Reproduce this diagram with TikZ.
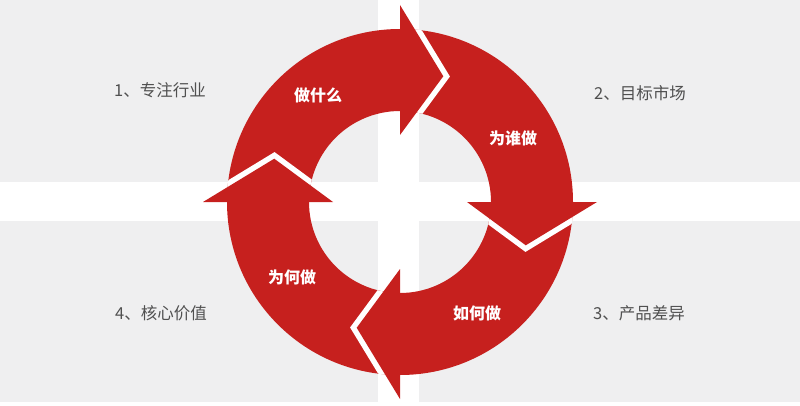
\documentclass[tikz,border=0pt]{standalone}
\usepackage{fontspec}
\newfontfamily\cjk{Noto Sans CJK SC}
\definecolor{ringred}{RGB}{198,32,30}
\definecolor{quadgray}{RGB}{239,239,240}
\definecolor{labelgray}{RGB}{80,80,80}
\tikzset{
  quadlabel/.style={text=labelgray, font=\cjk\fontsize{16.5}{20}\selectfont, inner sep=0pt},
  ringlabel/.style={text=white, font=\cjk\bfseries\fontsize{16}{19}\selectfont, inner sep=0pt},
  gapline/.style={white, line width=11pt, line join=miter},
}
\newcommand\ringhead[1]{%
  \begin{scope}[shift={(C)}, rotate=#1]
    \begin{scope}[even odd rule]
      \clip (0,0) circle[radius=173] (0,0) circle[radius=91];
      \draw[gapline] (197,0) -- (-19:133) -- (67,0);
    \end{scope}
    \fill[ringred] (197,0) -- (-19:133) -- (67,0) -- cycle;
  \end{scope}}
\begin{document}
\begin{tikzpicture}[x=1pt,y=1pt]
\useasboundingbox (0,0) rectangle (800,405);
% quadrants
\fill[quadgray] (0,223) rectangle (378,405);
\fill[quadgray] (419,223) rectangle (800,405);
\fill[quadgray] (0,3) rectangle (378,184);
\fill[quadgray] (419,3) rectangle (800,184);
% ring
\coordinate (C) at (400,203);
\fill[ringred, even odd rule] (C) circle[radius=173] (C) circle[radius=91];
\ringhead{90}
\ringhead{0}
\ringhead{-90}
\ringhead{180}
% ring labels
\node[ringlabel] (a1) at (318,310) {做什么};
\node[ringlabel] (a2) at (513,267) {为谁做};
\node[ringlabel] (a3) at (477,92) {如何做};
\node[ringlabel] (a4) at (292,128) {为何做};
% quadrant labels
\node[quadlabel] (q1) at (160,315) {1、专注行业};
\node[quadlabel] (q2) at (640,312) {2、目标市场};
\node[quadlabel] (q3) at (639,92) {3、产品差异};
\node[quadlabel] (q4) at (161,92) {4、核心价值};
\end{tikzpicture}
\end{document}
